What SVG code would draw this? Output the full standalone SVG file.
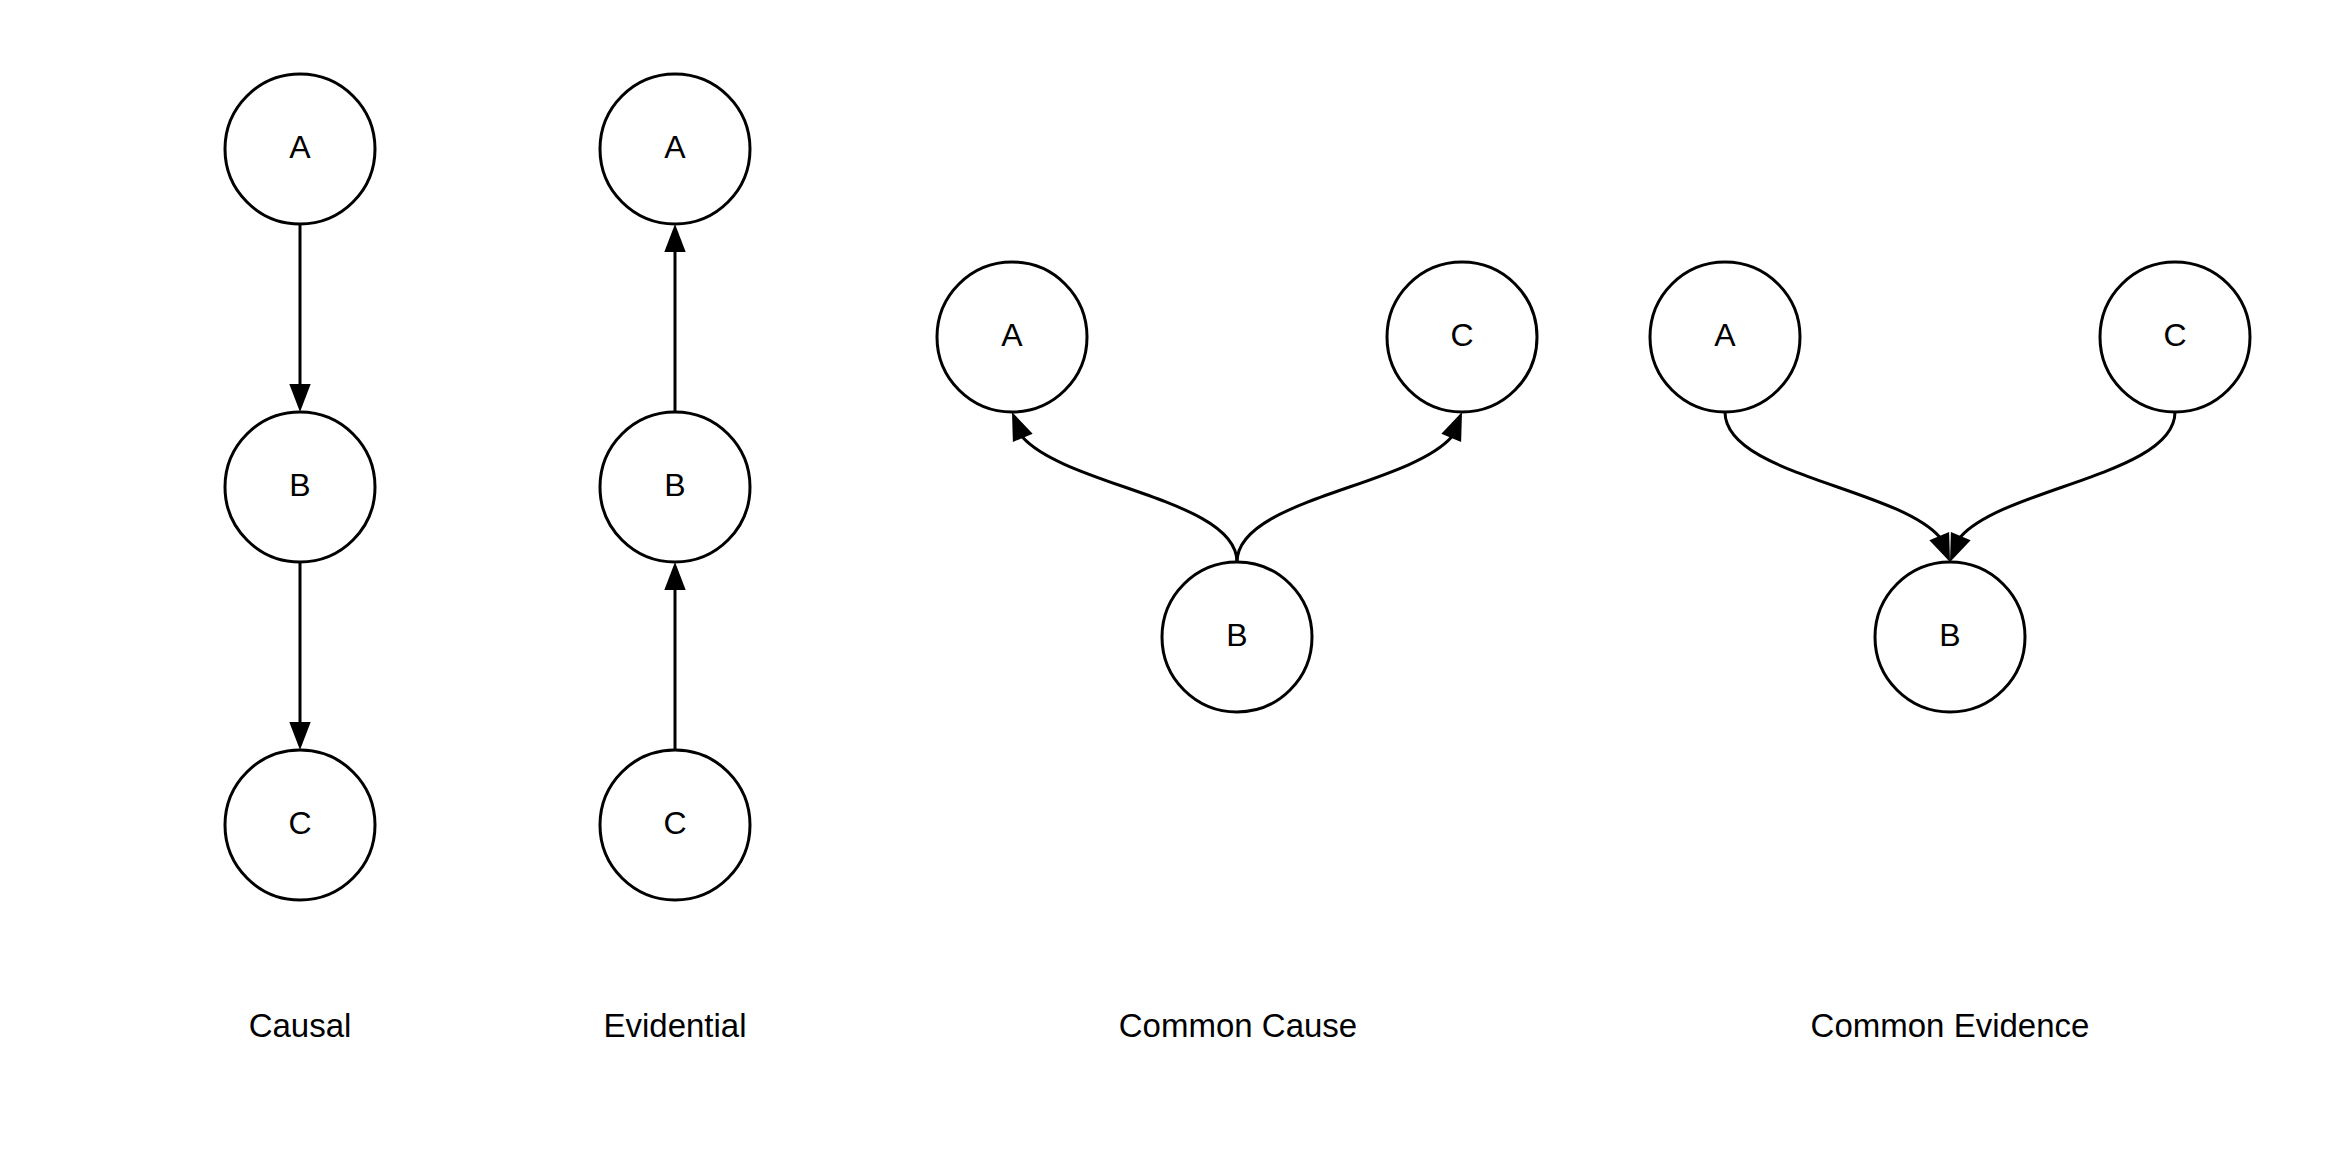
<svg xmlns="http://www.w3.org/2000/svg" xmlns:xlink="http://www.w3.org/1999/xlink" width="2325" height="1163" viewBox="0 0 2325 1163">
  <style>
    .node circle { fill: #ffffff; stroke: #000000; stroke-width: 3; }
    .node text { font-family: "Liberation Sans", Arial, sans-serif; font-size: 32px; fill: #000000; text-anchor: middle; }
    .edge { fill: none; stroke: #000000; stroke-width: 3; }
    .head { fill: #000000; }
    .caption { font-family: "Liberation Sans", Arial, sans-serif; font-size: 33px; fill: #000000; text-anchor: middle; }
  </style>
  <defs>
    <path id="ah" d="M0,0 L-28,-10.7 L-28,10.7 Z"/>
  </defs>
  <rect x="0" y="0" width="2325" height="1163" fill="#ffffff"/>

  <g id="connectors">
    <!-- Causal -->
    <line class="edge" x1="300" y1="224" x2="300" y2="386"/>
    <use class="head" href="#ah" xlink:href="#ah" transform="translate(300,412) rotate(90)"/>
    <line class="edge" x1="300" y1="562" x2="300" y2="724"/>
    <use class="head" href="#ah" xlink:href="#ah" transform="translate(300,750) rotate(90)"/>
    <!-- Evidential -->
    <line class="edge" x1="675" y1="412" x2="675" y2="250"/>
    <use class="head" href="#ah" xlink:href="#ah" transform="translate(675,224) rotate(-90)"/>
    <line class="edge" x1="675" y1="750" x2="675" y2="588"/>
    <use class="head" href="#ah" xlink:href="#ah" transform="translate(675,562) rotate(-90)"/>
    <!-- Common Cause -->
    <path class="edge" d="M1237,562 C1237,499.4 1066.7,486.7 1022.4,437"/>
    <use class="head" href="#ah" xlink:href="#ah" transform="translate(1012,412) rotate(-112.6)"/>
    <path class="edge" d="M1237,562 C1237,499.4 1407.3,486.7 1451.6,437"/>
    <use class="head" href="#ah" xlink:href="#ah" transform="translate(1462,412) rotate(-67.4)"/>
    <!-- Common Evidence -->
    <path class="edge" d="M1725,412 C1725,474.6 1895.3,487.3 1939.6,537"/>
    <use class="head" href="#ah" xlink:href="#ah" transform="translate(1950,562) rotate(67.4)"/>
    <path class="edge" d="M2175,412 C2175,474.6 2004.7,487.3 1960.4,537"/>
    <use class="head" href="#ah" xlink:href="#ah" transform="translate(1950,562) rotate(112.6)"/>
  </g>

  <!-- Causal nodes -->
  <g id="causal-A" class="node"><circle cx="300" cy="149" r="75"/><text x="300" y="158">A</text></g>
  <g id="causal-B" class="node"><circle cx="300" cy="487" r="75"/><text x="300" y="496">B</text></g>
  <g id="causal-C" class="node"><circle cx="300" cy="825" r="75"/><text x="300" y="834">C</text></g>

  <!-- Evidential nodes -->
  <g id="evidential-A" class="node"><circle cx="675" cy="149" r="75"/><text x="675" y="158">A</text></g>
  <g id="evidential-B" class="node"><circle cx="675" cy="487" r="75"/><text x="675" y="496">B</text></g>
  <g id="evidential-C" class="node"><circle cx="675" cy="825" r="75"/><text x="675" y="834">C</text></g>

  <!-- Common Cause nodes -->
  <g id="cause-A" class="node"><circle cx="1012" cy="337" r="75"/><text x="1012" y="346">A</text></g>
  <g id="cause-C" class="node"><circle cx="1462" cy="337" r="75"/><text x="1462" y="346">C</text></g>
  <g id="cause-B" class="node"><circle cx="1237" cy="637" r="75"/><text x="1237" y="646">B</text></g>

  <!-- Common Evidence nodes -->
  <g id="evidence-A" class="node"><circle cx="1725" cy="337" r="75"/><text x="1725" y="346">A</text></g>
  <g id="evidence-C" class="node"><circle cx="2175" cy="337" r="75"/><text x="2175" y="346">C</text></g>
  <g id="evidence-B" class="node"><circle cx="1950" cy="637" r="75"/><text x="1950" y="646">B</text></g>

  <g id="captions">
    <text class="caption" x="300" y="1037">Causal</text>
    <text class="caption" x="675" y="1037">Evidential</text>
    <text class="caption" x="1238" y="1037">Common Cause</text>
    <text class="caption" x="1950" y="1037">Common Evidence</text>
  </g>
</svg>
